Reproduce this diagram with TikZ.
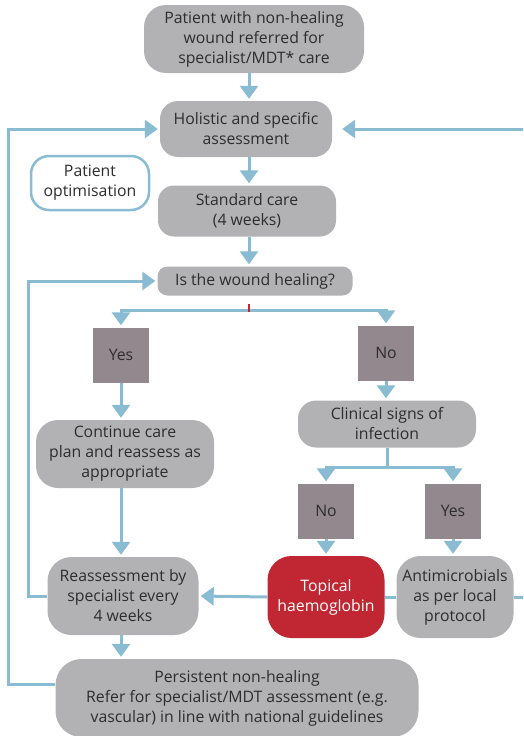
\documentclass[tikz,border=0pt]{standalone}
\usepackage{fontspec}
\setmainfont{Open Sans}
\usetikzlibrary{arrows.meta}
\definecolor{lineblue}{RGB}{137,188,210}
\definecolor{boxgrey}{RGB}{178,178,181}
\definecolor{mauve}{RGB}{147,136,142}
\definecolor{topred}{RGB}{192,39,50}
\definecolor{txt}{RGB}{45,45,45}
\begin{document}
\begin{tikzpicture}[x=1pt,y=-1pt,
 every node/.style={font=\fontsize{15.8}{20}\selectfont, text=txt, align=center, inner sep=0pt},
 gbox/.style={fill=boxgrey, rounded corners=#1}, gbox/.default=18pt,
 sq/.style={fill=mauve, minimum width=56pt, minimum height=55pt},
 conn/.style={draw=lineblue, line width=3pt, -{Triangle[width=18pt,length=13pt]}, shorten >=2pt},
 plain/.style={draw=lineblue, line width=3pt}]
\useasboundingbox (0,0) rectangle (523,736);
\clip (0,0) rectangle (523,736);
\node[gbox=22pt, minimum width=220pt, minimum height=68pt] (ref) at (254,39) {Patient with non-healing\\wound referred for\\specialist/MDT* care};
\node[gbox, minimum width=172pt, minimum height=56pt] (hol) at (246,129) {Holistic and specific\\assessment};
\node[draw=lineblue, line width=2.5pt, fill=white, rounded corners=18pt, minimum width=118pt, minimum height=54pt] (opt) at (90,183) {Patient\\optimisation};
\node[gbox=16pt, minimum width=178pt, minimum height=51pt] (std) at (247,211) {Standard care\\(4 weeks)};
\node[gbox=10pt, minimum width=195pt, minimum height=29pt] (heal) at (255,281) {Is the wound healing?};
\node[sq] (yes1) at (121,355) {Yes};
\node[sq] (no1) at (386,353) {No};
\node[gbox=22pt, minimum width=178pt, minimum height=68pt] (cont) at (125,454) {Continue care\\plan and reassess as\\appropriate};
\node[gbox=18pt, minimum width=178pt, minimum height=47pt] (clin) at (387,424) {Clinical signs of\\infection};
\node[sq] (no2) at (326,511) {No};
\node[sq] (yes2) at (453,511) {Yes};
\node[fill=topred, rounded corners=24pt, minimum width=117pt, minimum height=82pt, text=white] (topi) at (326,597) {Topical\\haemoglobin};
\node[gbox=24pt, minimum width=117pt, minimum height=82pt] (anti) at (455,597) {Antimicrobials\\as per local\\protocol};
\node[gbox=24pt, minimum width=151pt, minimum height=78pt] (reas) at (123,596) {Reassessment by\\specialist every\\4 weeks};
\node[gbox=26pt, minimum width=363pt, minimum height=78pt] (pers) at (237,698) {Persistent non-healing\\Refer for specialist/MDT assessment (e.g.\\vascular) in line with national guidelines};
\coordinate (ax) at (249,0);
\coordinate (split) at (249,310);
\coordinate (split2) at (387,467);
\coordinate (rgt) at (530,0);
\coordinate (l1) at (8,0);
\coordinate (l2) at (28,0);
\coordinate (tickA) at (249,304);
\coordinate (tickB) at (249,312);
\draw[conn] (ref.south -| ax) -- (hol.north -| ax);
\draw[conn] (hol.south -| ax) -- (std.north -| ax);
\draw[conn] (std.south -| ax) -- (heal.north -| ax);
\draw[conn] (split) -| (yes1.north);
\draw[conn] (split) -| (no1.north);
\draw[topred, line width=2pt] (tickA) -- (tickB);
\draw[conn] (yes1.south) -- (yes1.south |- cont.north);
\draw[conn] (no1.south) -- (no1.south |- clin.north);
\draw[plain] (clin.south) -- (split2);
\draw[conn] (split2) -| (no2.north);
\draw[conn] (split2) -| (yes2.north);
\draw[conn] (no2.south) -- (topi.north);
\draw[conn] (yes2.south) -- (yes2.south |- anti.north);
\draw[conn] (cont.south -| yes1) -- (reas.north -| yes1);
\draw[conn] (reas.south -| yes1) -- (pers.north -| yes1);
\draw[plain] (anti.west) -- (topi.east);
\draw[conn] (topi.west) -- (reas.east);
\draw[conn, shorten >=10pt] (anti.east) -- (anti.east -| rgt) -- (hol.east -| rgt) -- (hol.east);
\draw[conn] (reas.west) -- (reas.west -| l2) -- (heal.west -| l2) -- (heal.west);
\draw[conn] ([yshift=14pt]pers.west) -- ([yshift=14pt]pers.west -| l1) -- (hol.west -| l1) -- (hol.west);
\end{tikzpicture}
\end{document}
